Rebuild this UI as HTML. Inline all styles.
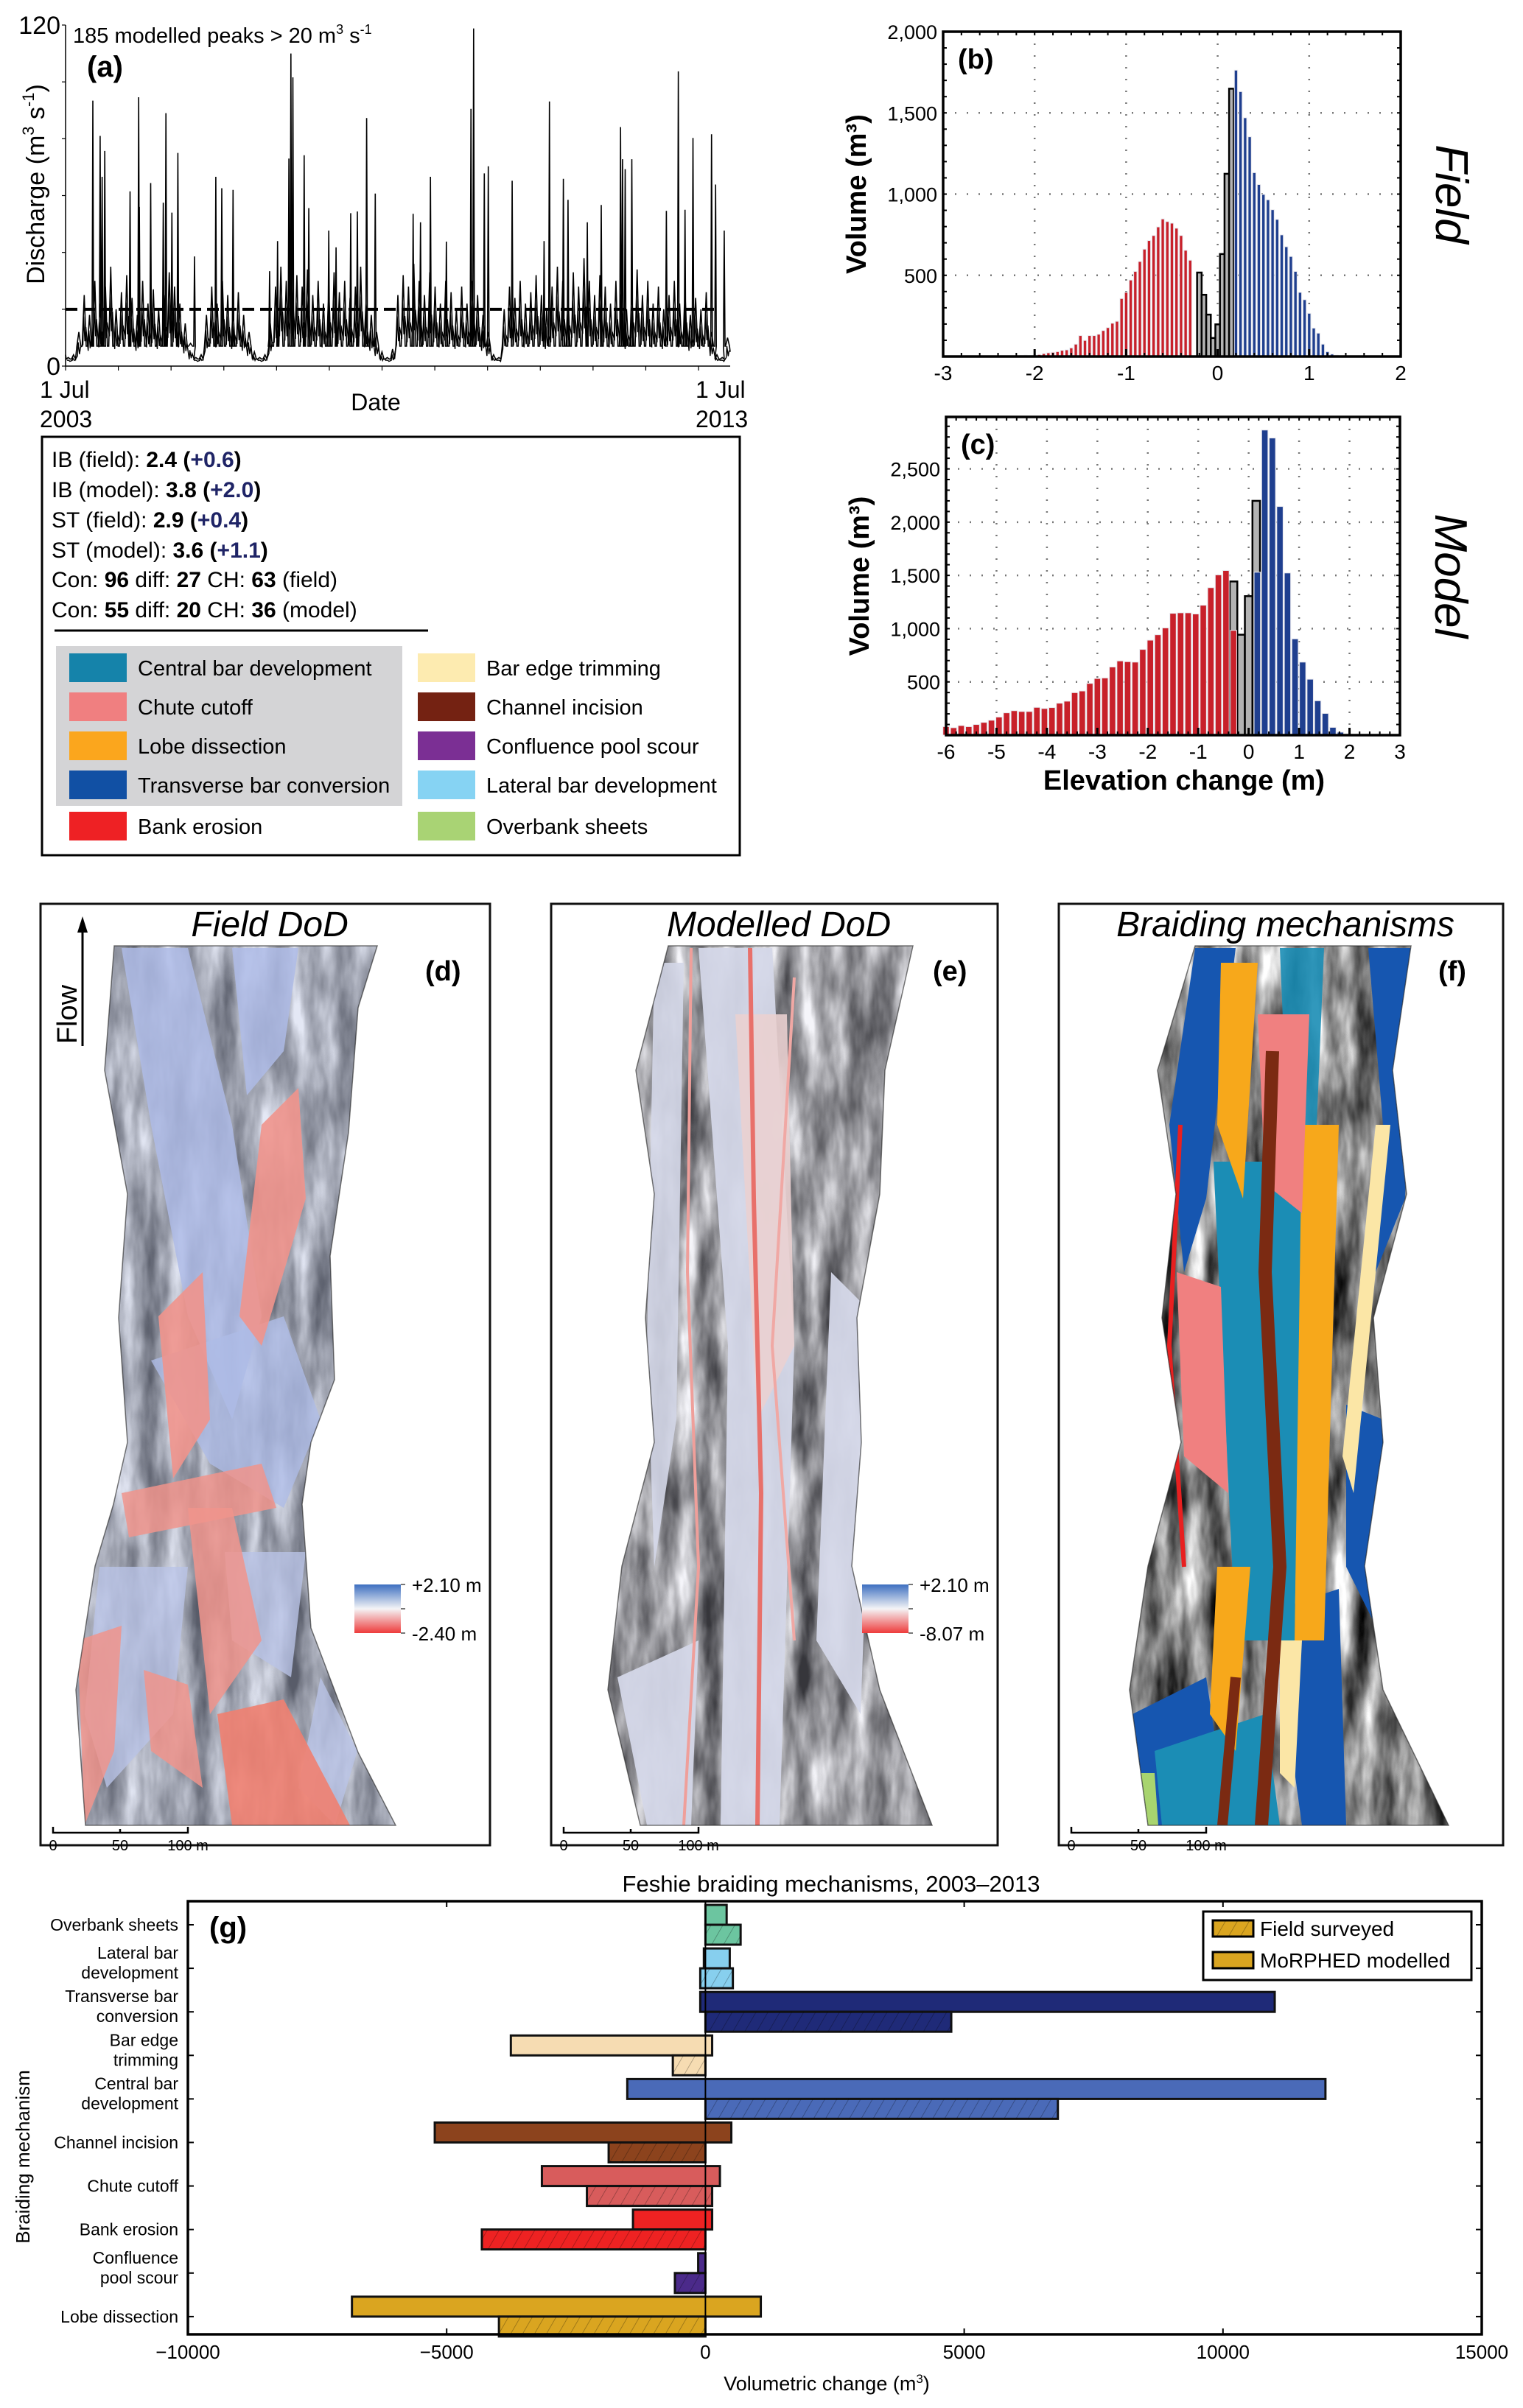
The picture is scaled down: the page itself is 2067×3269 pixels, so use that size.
<!DOCTYPE html>
<html><head><meta charset="utf-8">
<style>
html,body{margin:0;padding:0;background:#fff;}
svg{display:block;font-family:"Liberation Sans",Arial,sans-serif;}
</style></head>
<body>
<svg id="fig" xmlns="http://www.w3.org/2000/svg" width="2067" height="3269" viewBox="0 0 2067 3269">
<defs>
  <filter id="hill" x="0" y="0" width="100%" height="100%" color-interpolation-filters="sRGB">
    <feTurbulence type="fractalNoise" baseFrequency="0.03 0.008" numOctaves="4" seed="7" result="n"/>
    <feColorMatrix type="saturate" values="0" in="n" result="gs"/>
    <feComponentTransfer in="gs"><feFuncR type="linear" slope="2.0" intercept="-0.5"/><feFuncG type="linear" slope="2.0" intercept="-0.5"/><feFuncB type="linear" slope="2.0" intercept="-0.5"/><feFuncA type="linear" slope="0" intercept="1"/></feComponentTransfer>
  </filter>
  <pattern id="hatch" width="14" height="14" patternUnits="userSpaceOnUse" patternTransform="rotate(30)">
    <line x1="0" y1="0" x2="0" y2="14" stroke="rgba(0,0,0,0.35)" stroke-width="1.5"/>
  </pattern>
  <linearGradient id="cbar" x1="0" y1="0" x2="0" y2="1">
    <stop offset="0" stop-color="#3d6fc0"/><stop offset="0.5" stop-color="#f4f4f6"/><stop offset="1" stop-color="#ee3b3b"/>
  </linearGradient>
</defs>
<g id="pa"></g>
<g id="pinfo"></g>
<g id="pb"></g>
<g id="pc"></g>
<g id="maps"></g>
<g id="pg"></g>
</svg>
<script>
// ---------- (a) discharge data ----------
const peakT = [0.41,0.52,0.55,0.59,0.97,1.10,1.11,1.28,1.47,1.51,1.60,1.69,1.94,2.26,2.35,2.52,3.07,3.19,3.36,3.39,3.42,3.59,3.66,3.96,4.07,4.29,4.39,4.53,4.66,5.23,5.34,5.49,5.73,6.10,6.14,6.30,6.36,6.72,7.20,7.28,7.49,7.56,7.85,8.06,8.35,8.38,8.42,8.52,9.04,9.22,9.32,9.44,9.72,9.78,9.91];
const peakV = [93.4,81,66.6,75.7,61.5,94.6,56,64.4,57.5,89,54,75,38.6,66.6,62.6,62,33.4,44,73,110,101.6,74.2,55.6,47.7,41.8,53.8,54.4,87.3,60.7,53.6,50.6,66.6,43.8,90.5,118.8,67.8,70.3,65.2,44,93.1,65.9,58.5,50.6,56.7,84.1,72.8,69.3,72.8,54.6,103.7,55,80.3,81.6,63.9,47.7];
const minorV = [3,4,12,25,18,30,22,28,35,20,26,32,24,18,30,22,27,20,25,33,28,22,15,8,3,4,18,28,22,30,25,20,26,18,12,5,3,4,15,28,35,30,38,32,28,34,25,30,22,28,33,26,30,24,28,35,22,18,12,5,3,6,25,32,28,36,30,25,33,28,22,30,26,20,28,22,30,25,18,12,4,3,20,28,24,30,22,26,32,25,20,28,35,30,26,33,28,38,30,25,32,28,22,30,26,20,28,34,25,30,22,28,20,25,30,22,28,18,24,20,26,12,4,3,10];
const minorStep = 0.08;
const dischargeTicksY = ["0","120"];
const dashLevel = 20;

// ---------- (b) field histogram ----------
const bRedStart = -2.40, bStep = 0.05;
const bRedV = [3,4,3,5,4,6,8,6,8,12,18,23,26,30,38,41,53,76,129,99,129,129,137,160,178,205,217,357,395,471,524,585,661,714,745,798,847,831,821,790,745,654,593];
const bGrayStart = -0.20;
const bGrayV = [517,380,258,114,198,631,1125,1649];
const bBlueStart = 0.20;
const bBlueV = [1763,1631,1470,1353,1132,1059,998,965,904,844,749,676,616,524,395,350,266,175,144,76,30,15,8,4,3];
const bTicksX = ["-3","-2","-1","0","1","2"];
const bTicksY = ["500","1,000","1,500","2,000"];

// ---------- (c) model histogram ----------
const cRedStart = -6.0, cStep = 0.15;
const cRedV = [80,70,90,80,100,120,140,170,210,230,222,222,261,250,259,300,319,399,415,486,532,537,640,697,690,686,805,892,943,1007,1144,1149,1149,1138,1220,1385,1505,1546,984];
const cGrayStart = -0.30;
const cGrayV = [1443,943,1305,2200];
const cBlueStart = 0.17;
const cBlueV = [1530,2865,2790,2147,1523,904,686,525,323,204,73,28];
const cTicksX = ["-6","-5","-4","-3","-2","-1","0","1","2","3"];
const cTicksY = ["500","1,000","1,500","2,000","2,500"];

// ---------- (g) braiding mechanisms ----------
const gCats = [["Overbank sheets"],["Lateral bar","development"],["Transverse bar","conversion"],["Bar edge","trimming"],["Central bar","development"],["Channel incision"],["Chute cutoff"],["Bank erosion"],["Confluence","pool scour"],["Lobe dissection"]];
const gFieldNeg = [0,-30,-100,-3760,-1510,-5230,-3160,-1400,-140,-6830];
const gFieldPos = [410,470,11000,130,11980,500,280,130,0,1070];
const gModelNeg = [0,-100,0,-630,0,-1870,-2290,-4320,-590,-3990];
const gModelPos = [680,530,4750,0,6810,0,130,0,0,0];
const gColors = ["#6cc5a0","#87cfee","#1f2a78","#f6dcb2","#4a6ab8","#8c431d","#d85c5c","#ee2222","#4b2a8a","#daa520"];
const gTicksX = [-10000,-5000,0,5000,10000,15000];

// ---------- helpers ----------
const NS = "http://www.w3.org/2000/svg";
function mk(parent, tag, attrs, text){
  const e = document.createElementNS(NS, tag);
  for (const k in attrs) e.setAttribute(k, attrs[k]);
  if (text !== undefined) e.textContent = text;
  parent.appendChild(e);
  return e;
}

// ===== Panel (a) =====
(function(){
  const g = document.getElementById('pa');
  const X0=89, X1=991, Y0=497, YT=34;
  const xs = t => X0 + t/10*(X1-X0);
  const ys = v => Y0 - v*(Y0-YT)/120;
  const ev = [];
  for (let i=0;i<peakT.length;i++) ev.push([peakT[i], peakV[i], 0.012]);
  for (let i=0;i<minorV.length;i++) ev.push([0.04+minorStep*i, minorV[i], 0.03]);
  ev.sort((a,b)=>a[0]-b[0]);
  let pts = [[xs(0), ys(4)]];
  for (const e of ev){
    const base = e[1] < 7 ? 2.5 : 7;
    pts.push([xs(e[0]-e[2]), ys(base)]);
    pts.push([xs(e[0]), ys(e[1])]);
    pts.push([xs(e[0]+e[2]), ys(base)]);
  }
  pts.push([xs(10), ys(5)]);
  const line = mk(g,'polyline',{points:pts.map(p=>p[0].toFixed(1)+','+p[1].toFixed(1)).join(' '),fill:'none',stroke:'#000','stroke-width':1.6});
  
  
  const dense = [];
  for (let i=0;i<minorV.length;i++){
    const t = 0.04+minorStep*i, v = minorV[i];
    dense.push([xs(t-0.02), ys(Math.max(2,v*0.3))],[xs(t-0.01), ys(v*0.7)],[xs(t+0.01), ys(Math.max(2,v*0.35))],[xs(t+0.025), ys(v*0.55)]);
  }
  const dl = mk(g,'polyline',{points:dense.map(p=>p[0].toFixed(1)+','+p[1].toFixed(1)).join(' '),fill:'none',stroke:'#000','stroke-width':1.4});
  
  
  const dash = mk(g,'line',{x1:X0,x2:X0+(X1-X0)*0.98,y1:ys(dashLevel),y2:ys(dashLevel),stroke:'#000','stroke-width':4,'stroke-dasharray':'16,8'});
  
  
  const ax = mk(g,'path',{d:`M${X0},${YT} V${Y0} H${X1}`,fill:'none',stroke:'#000','stroke-width':1.5});
  
  
  for (let i=0;i<=6;i++) mk(g,'line',{x1:X0,x2:X0-5,y1:ys(i*20),y2:ys(i*20),stroke:'#000','stroke-width':1.2});
  for (let i=0;i<=12;i++){ const x=X0+i*(X1-X0)/12.6; mk(g,'line',{x1:x,x2:x,y1:Y0,y2:Y0+6,stroke:'#000','stroke-width':1.2}); }
  const t1 = mk(g,'text',{x:82,y:ys(120)+12,'font-size':34,'text-anchor':'end'},dischargeTicksY[1]);
   
  const t0 = mk(g,'text',{x:82,y:Y0+12,'font-size':34,'text-anchor':'end'},dischargeTicksY[0]);
   
  const nt = mk(g,'text',{x:99,y:58,'font-size':29});
   
  mk(nt,'tspan',{},'185 modelled peaks > 20 m');
  mk(nt,'tspan',{'font-size':18,dy:-12},'3');
  mk(nt,'tspan',{'font-size':29,dy:12},' s');
  mk(nt,'tspan',{'font-size':18,dy:-12},'-1');
  const la = mk(g,'text',{x:118,y:104,'font-size':40,'font-weight':'bold'},'(a)');
   
  const yt = mk(g,'text',{x:0,y:0,'font-size':34,'text-anchor':'middle',transform:'translate(60,250) rotate(-90)'});
   
  mk(yt,'tspan',{},'Discharge (m');
  mk(yt,'tspan',{'font-size':22,dy:-14},'3'); mk(yt,'tspan',{'font-size':34,dy:14},'  s'); mk(yt,'tspan',{'font-size':22,dy:-14},'-1'); mk(yt,'tspan',{'font-size':34,dy:14},')');
  const xa = mk(g,'text',{x:54,y:540,'font-size':32},'1 Jul');  
  mk(g,'text',{x:54,y:580,'font-size':32},'2003');
  const xb = mk(g,'text',{x:944,y:540,'font-size':32},'1 Jul');  
  mk(g,'text',{x:944,y:580,'font-size':32},'2013');
  const xt = mk(g,'text',{x:510,y:557,'font-size':32,'text-anchor':'middle'},'Date');  
})();

// ===== Info / legend box =====
(function(){
  const g = document.getElementById('pinfo');
  const box = mk(g,'rect',{x:57,y:593,width:947,height:568,fill:'#fff',stroke:'#000','stroke-width':3});
   
  const lines = [
    [["IB (field): ",0],["2.4 ",1],["(",1],["+0.6",2],[")",1]],
    [["IB (model): ",0],["3.8 ",1],["(",1],["+2.0",2],[")",1]],
    [["ST (field): ",0],["2.9 ",1],["(",1],["+0.4",2],[")",1]],
    [["ST (model): ",0],["3.6 ",1],["(",1],["+1.1",2],[")",1]],
    [["Con: ",0],["96",1],[" diff: ",0],["27",1],[" CH: ",0],["63",1],[" (field)",0]],
    [["Con: ",0],["55",1],[" diff: ",0],["20",1],[" CH: ",0],["36",1],[" (model)",0]]
  ];
  const ys=[634,675,716,757,797,838];
  lines.forEach((ln,i)=>{
    const t = mk(g,'text',{x:70,y:ys[i],'font-size':30});
    
    
    ln.forEach(s=>{ mk(t,'tspan',{'font-weight':s[1]?'bold':'normal',fill:s[1]===2?'#1f2466':'#000'},s[0]); });
  });
  mk(g,'line',{x1:74,x2:581,y1:856,y2:856,stroke:'#000','stroke-width':3});
  const gb = mk(g,'rect',{x:76,y:877,width:470,height:217,fill:'#d4d4d6'});
   
  const left=[["Central bar development","#1583aa"],["Chute cutoff","#f07f80"],["Lobe dissection","#fba61d"],["Transverse bar conversion","#1150a4"],["Bank erosion","#ee2124"]];
  const right=[["Bar edge trimming","#fdebb0"],["Channel incision","#742212"],["Confluence pool scour","#7b2f94"],["Lateral bar development","#86d3f3"],["Overbank sheets","#a9d374"]];
  const rows=[887,940,993,1046,1102];
  [[left,94,187],[right,567,660]].forEach(col=>{
    col[0].forEach((it,i)=>{
      const r = mk(g,'rect',{x:col[1],y:rows[i],width:78,height:39,fill:it[1]});
      
      
      const t = mk(g,'text',{x:col[2],y:rows[i]+30,'font-size':29},it[0]);
      
      
    });
  });
})();

// ===== Histogram helper =====
function histo(gid, cfg){
  const g = document.getElementById(gid);
  const L=cfg.L,R=cfg.R,T=cfg.T,B=cfg.B,xmin=cfg.xmin,xmax=cfg.xmax,ymax=cfg.ymax,step=cfg.step,bw=cfg.bw;
  const xs = e => L + (e-xmin)/(xmax-xmin)*(R-L);
  const ys = v => B - v/ymax*(B-T);
  for (let e=Math.ceil(xmin); e<=xmax; e++){ mk(g,'line',{x1:xs(e),x2:xs(e),y1:T,y2:B,stroke:'#777','stroke-width':2.5,'stroke-dasharray':'2,14'}); }
  cfg.gridY.forEach(v=>mk(g,'line',{x1:L,x2:R,y1:ys(v),y2:ys(v),stroke:'#777','stroke-width':2.5,'stroke-dasharray':'2,14'}));
  cfg.gray.forEach((v,i)=>{
    const c = cfg.grayStart + i*step;
    const r = mk(g,'rect',{x:xs(c-step/2),y:ys(v),width:xs(c+step/2)-xs(c-step/2),height:B-ys(v),fill:'#b3b3b3',stroke:'#000','stroke-width':2.5});
    
    
  });
  const series=[[cfg.red,cfg.redStart,'#c8202a','bar-erosion'],[cfg.blue,cfg.blueStart,'#1f3f8f','bar-deposition']];
  series.forEach(s=>{
    s[0].forEach((v,i)=>{
      const c = s[1]+i*step;
      const w = xs(c+bw/2)-xs(c-bw/2);
      const r = mk(g,'rect',{x:xs(c-bw/2),y:ys(v),width:w,height:B-ys(v),fill:s[2],stroke:'#e8e8ee','stroke-width':1});
      
      
    });
  });
  const fr = mk(g,'rect',{x:L,y:T,width:R-L,height:B-T,fill:'none',stroke:'#000','stroke-width':3.5});
   
  for (let k=Math.ceil(xmin*5); k<=Math.floor(xmax*5); k++){ const e=k/5; mk(g,'line',{x1:xs(e),x2:xs(e),y1:B,y2:B-5,stroke:'#000','stroke-width':2}); mk(g,'line',{x1:xs(e),x2:xs(e),y1:T,y2:T+5,stroke:'#000','stroke-width':2}); }
  for (let e=Math.ceil(xmin); e<=xmax; e++){ mk(g,'line',{x1:xs(e),x2:xs(e),y1:B,y2:B-10,stroke:'#000','stroke-width':3}); }
  for (let v=0; v<=ymax; v+=100){ mk(g,'line',{x1:L,x2:L+5,y1:ys(v),y2:ys(v),stroke:'#000','stroke-width':2}); mk(g,'line',{x1:R,x2:R-5,y1:ys(v),y2:ys(v),stroke:'#000','stroke-width':2}); }
  cfg.ticksX.forEach(s=>{
    const t = mk(g,'text',{x:xs(parseFloat(s)),y:B+32,'font-size':28,'text-anchor':'middle'},s);
    
    
  });
  cfg.ticksY.forEach(s=>{
    const t = mk(g,'text',{x:L-8,y:ys(parseFloat(s.replace(',','')))+10,'font-size':27,'text-anchor':'end'},s);
    
    
  });
  const yt = mk(g,'text',{x:0,y:0,'font-size':38,'font-weight':'bold','text-anchor':'middle',transform:`translate(${L-105},${(T+B)/2}) rotate(-90)`},'Volume  (m³)');
   
  const pl = mk(g,'text',{x:L+20,y:T+50,'font-size':38,'font-weight':'bold'},cfg.label);
   
  const side = mk(g,'text',{x:0,y:0,'font-size':62,'font-style':'italic','text-anchor':'middle',transform:`translate(${R+48},${(T+B)/2}) rotate(90)`},cfg.side);
   
}
histo('pb',{L:1280,R:1901,T:43,B:484,xmin:-3,xmax:2,ymax:2000,step:bStep,bw:0.035,gridY:[500,1000,1500],
  red:bRedV,redStart:bRedStart,gray:bGrayV,grayStart:bGrayStart,blue:bBlueV,blueStart:bBlueStart,
  ticksX:bTicksX,ticksY:bTicksY,label:'(b)',side:'Field'});
histo('pc',{L:1284,R:1900,T:566,B:998,xmin:-6,xmax:3,ymax:2988,step:cStep,bw:0.125,gridY:[500,1000,1500,2000,2500],
  red:cRedV,redStart:cRedStart,gray:cGrayV,grayStart:cGrayStart,blue:cBlueV,blueStart:cBlueStart,
  ticksX:cTicksX,ticksY:cTicksY,label:'(c)',side:'Model'});
(function(){
  const g=document.getElementById('pc');
  const t=mk(g,'text',{x:1607,y:1072,'font-size':38,'font-weight':'bold','text-anchor':'middle'},'Elevation change (m)');
   
})();

// ===== Maps =====
(function(){
  const g = document.getElementById('maps');
  const defs = document.querySelector('defs');
  const panels = [
    {x:55,w:610,title:'Field DoD',lab:'(d)',
     left:[[100,57],[87,226],[118,394],[106,562],[118,731],[99,815],[74,899],[48,1067],[61,1251]],
     right:[[457,57],[431,141],[418,310],[393,478],[399,646],[367,731],[355,815],[367,983],[431,1152],[482,1251]],
     base:'#c4cbe8', baseOp:0.45,
     shapes:[
      ['#aebbe6',0.85,[[110,60],[200,60],[260,300],[300,560],[260,700],[200,560],[150,300]]],
      ['#aebbe6',0.85,[[260,60],[350,60],[330,200],[280,260]]],
      ['#aebbe6',0.8,[[150,620],[330,560],[380,700],[330,820],[230,760]]],
      ['#b9c3e6',0.8,[[80,900],[200,900],[180,1100],[90,1200],[60,1100]]],
      ['#b9c3e6',0.8,[[250,880],[360,880],[340,1050],[260,1000]]],
      ['#b9c3e6',0.8,[[380,1050],[430,1150],[400,1251],[350,1200]]],
      ['#f0948c',0.9,[[300,300],[350,250],[360,400],[300,600],[270,560]]],
      ['#f0948c',0.9,[[160,560],[220,500],[230,700],[180,780]]],
      ['#f0948c',0.85,[[110,800],[300,760],[320,820],[120,860]]],
      ['#f0948c',0.85,[[200,820],[260,820],[300,1000],[230,1100]]],
      ['#f0948c',0.85,[[50,1000],[110,980],[100,1150],[60,1250]]],
      ['#f08070',0.9,[[240,1100],[330,1080],[420,1251],[260,1251]]],
      ['#f0948c',0.85,[[140,1040],[200,1060],[220,1200],[150,1150]]]
     ],lines:[]},
    {x:748,w:606,title:'Modelled DoD',lab:'(e)',
     left:[[159,57],[115,226],[140,394],[128,562],[140,731],[96,899],[77,1067],[121,1251]],
     right:[[491,57],[453,226],[446,394],[415,562],[421,731],[408,899],[446,1067],[517,1251]],
     base:'#d6d9ea', baseOp:0.25,
     shapes:[
      ['#d4d7e8',0.95,[[200,60],[300,60],[330,600],[310,1251],[230,1251],[240,600]]],
      ['#d4d7e8',0.95,[[380,500],[440,560],[420,1100],[360,1000]]],
      ['#d4d7e8',0.95,[[90,1050],[200,1000],[190,1251],[130,1251]]],
      ['#d4d7e8',0.9,[[140,80],[180,80],[170,700],[140,900],[130,600]]],
      ['#ead0d0',0.9,[[250,150],[320,150],[330,600],[280,700]]]
     ],
     lines:[['#e8706a',6,[[270,60],[275,400],[285,800],[280,1251]]],['#ef9f9a',4,[[190,60],[185,500],[200,900],[180,1251]]],['#f0a8a4',4,[[330,100],[300,600],[330,1000]]]]},
    {x:1437,w:603,title:'Braiding mechanisms',lab:'(f)',
     left:[[185,57],[134,226],[159,394],[140,562],[166,731],[121,899],[96,1067],[121,1251]],
     right:[[478,57],[453,226],[472,394],[427,562],[440,731],[415,899],[440,1067],[529,1251]],
     base:'#1b8db5', baseOp:0.0,
     shapes:[
      ['#1656b0',1,[[185,60],[240,60],[200,400],[170,500],[150,300]]],
      ['#1656b0',1,[[420,60],[480,60],[470,400],[430,500],[440,300]]],
      ['#1656b0',1,[[390,680],[440,700],[440,1000],[390,900]]],
      ['#1656b0',1,[[100,1100],[200,1050],[230,1251],[120,1251]]],
      ['#1656b0',1,[[290,960],[380,930],[390,1251],[330,1251]]],
      ['#1b8db5',1,[[210,350],[330,350],[320,1000],[240,1000]]],
      ['#1b8db5',1,[[130,1150],[280,1100],[300,1251],[140,1251]]],
      ['#1b8db5',0.9,[[300,60],[360,60],[350,300],[310,300]]],
      ['#f7a81b',1,[[220,80],[270,80],[250,400],[215,300]]],
      ['#f7a81b',1,[[330,300],[380,300],[360,1000],[320,1000]]],
      ['#f7a81b',1,[[215,900],[260,900],[240,1150],[205,1100]]],
      ['#f08080',1,[[270,150],[340,150],[330,420],[280,380]]],
      ['#f08080',1,[[160,500],[220,520],[230,800],[170,750]]],
      ['#fbe6a6',1,[[430,300],[450,300],[400,800],[385,750]]],
      ['#fbe6a6',1,[[300,1000],[330,1000],[320,1200],[300,1180]]],
      ['#a8d46f',1,[[100,1180],[130,1180],[135,1251],[110,1251]]]
     ],
     lines:[['#7b2a12',18,[[290,200],[280,500],[300,900],[275,1251]]],['#7b2a12',14,[[240,1050],[222,1251]]],['#e82020',6,[[165,300],[150,600],[170,900]]]]}
  ];
  panels.forEach((p,pi)=>{
    const pg = mk(g,'g',{transform:`translate(${p.x},1227)`});
    
    
    const band = p.left.concat(p.right.slice().reverse());
    const d = 'M'+band.map(q=>q.join(',')).join(' L')+' Z';
    const cid = 'clip'+pi;
    const cp = mk(defs,'clipPath',{id:cid});
    mk(cp,'path',{d:d});
    const inner = mk(pg,'g',{'clip-path':`url(#${cid})`});
    mk(inner,'rect',{x:0,y:50,width:p.w,height:1210,fill:'#808080',filter:'url(#hill)'});
    if (p.baseOp>0) mk(inner,'rect',{x:0,y:50,width:p.w,height:1210,fill:p.base,opacity:p.baseOp});
    p.shapes.forEach(s=>{
      const poly = mk(inner,'polygon',{points:s[2].map(q=>q.join(',')).join(' '),fill:s[0],opacity:s[1]});
      
      
    });
    p.lines.forEach(s=>{
      mk(inner,'polyline',{points:s[2].map(q=>q.join(',')).join(' '),fill:'none',stroke:s[0],'stroke-width':s[1]});
    });
    mk(pg,'path',{d:d,fill:'none',stroke:'#222','stroke-width':1.5,opacity:0.6});
    const fr = mk(pg,'rect',{x:0,y:0,width:p.w,height:1278,fill:'none',stroke:'#111','stroke-width':3});
     
    const tt = mk(pg,'text',{x:p.w*0.51,y:44,'font-size':48,'font-style':'italic','text-anchor':'middle'},p.title);
     
    const lb = mk(pg,'text',{x:p.w-88,y:104,'font-size':38,'font-weight':'bold'},p.lab);
     
    mk(pg,'path',{d:'M17,1253 V1261 H200 V1253 M108,1256 V1261',fill:'none',stroke:'#000','stroke-width':2.5});
    const sb=[['0',17],['50',108],['100 m',200]];
    sb.forEach(s=>{ const t=mk(pg,'text',{x:s[1],y:1285,'font-size':20,'text-anchor':'middle'},s[0]);   });
  });
  mk(g,'line',{x1:112,x2:112,y1:1420,y2:1256,stroke:'#000','stroke-width':3});
  mk(g,'polygon',{points:'112,1244 105,1266 119,1266',fill:'#000'});
  const fl = mk(g,'text',{x:0,y:0,'font-size':38,'text-anchor':'middle',transform:'translate(104,1377) rotate(-90)'},'Flow');
   
  [[481,'+2.10 m','-2.40 m'],[1170,'+2.10 m','-8.07 m']].forEach(c=>{
    const r = mk(g,'rect',{x:c[0],y:2151,width:63,height:66,fill:'url(#cbar)'});
     
    mk(g,'path',{d:`M${c[0]+63},2151 h6 M${c[0]+63},2184 h6 M${c[0]+63},2217 h6`,stroke:'#777','stroke-width':2});
    mk(g,'text',{x:c[0]+78,y:2161,'font-size':26},c[1]);
    mk(g,'text',{x:c[0]+78,y:2227,'font-size':26},c[2]);
  });
})();

// ===== Panel (g) =====
(function(){
  const g = document.getElementById('pg');
  const L=255, R=2011, T=2581, B=3169;
  const xmin=-10000, xmax=15000;
  const xs = v => L + (v-xmin)/(xmax-xmin)*(R-L);
  const rowY = i => 2613 + i*59.1;
  const bh = 27;
  gCats.forEach((cat,i)=>{
    const yc = rowY(i);
    const f = mk(g,'rect',{x:xs(gFieldNeg[i]),y:yc-bh,width:xs(gFieldPos[i])-xs(gFieldNeg[i]),height:bh,fill:gColors[i],stroke:'#111','stroke-width':3});
    
    
    const m = mk(g,'rect',{x:xs(gModelNeg[i]),y:yc,width:xs(gModelPos[i])-xs(gModelNeg[i]),height:bh,fill:gColors[i],stroke:'#111','stroke-width':3});
    
    
    mk(g,'rect',{x:xs(gModelNeg[i]),y:yc,width:xs(gModelPos[i])-xs(gModelNeg[i]),height:bh,fill:'url(#hatch)'});
    mk(g,'line',{x1:L,x2:L+8,y1:yc,y2:yc,stroke:'#000','stroke-width':2});
    mk(g,'line',{x1:R,x2:R-8,y1:yc,y2:yc,stroke:'#000','stroke-width':2});
    const lbl = mk(g,'text',{x:242,y:yc,'font-size':23,'text-anchor':'end'});
    
    
    if (cat.length===1){ mk(lbl,'tspan',{x:242,y:yc+8},cat[0]); }
    else { mk(lbl,'tspan',{x:242,y:yc-13},cat[0]); mk(lbl,'tspan',{x:242,y:yc+14},cat[1]); }
  });
  mk(g,'line',{x1:xs(0),x2:xs(0),y1:T,y2:B,stroke:'#000','stroke-width':2});
  const fr = mk(g,'rect',{x:L,y:T,width:R-L,height:B-T,fill:'none',stroke:'#000','stroke-width':3.5});
   
  gTicksX.forEach(v=>{
    mk(g,'line',{x1:xs(v),x2:xs(v),y1:B,y2:B-8,stroke:'#000','stroke-width':2});
    mk(g,'line',{x1:xs(v),x2:xs(v),y1:T,y2:T+8,stroke:'#000','stroke-width':2});
    const t = mk(g,'text',{x:xs(v),y:3202,'font-size':26,'text-anchor':'middle'},v<0?'\u2212'+Math.abs(v):String(v));
    
    
  });
  const xt = mk(g,'text',{x:1122,y:3245,'font-size':27,'text-anchor':'middle'});
   
  mk(xt,'tspan',{},'Volumetric change (m');
  mk(xt,'tspan',{'font-size':17,dy:-10},'3'); mk(xt,'tspan',{'font-size':27,dy:10},')');
  const yt = mk(g,'text',{x:0,y:0,'font-size':26,'text-anchor':'middle',transform:'translate(40,2928) rotate(-90)'},'Braiding mechanism');
   
  const tt = mk(g,'text',{x:1128,y:2568,'font-size':31,'text-anchor':'middle'},'Feshie braiding mechanisms, 2003\u20132013');
   
  const pl = mk(g,'text',{x:284,y:2630,'font-size':40,'font-weight':'bold'},'(g)');
   
  const lg = mk(g,'rect',{x:1633,y:2595,width:364,height:93,fill:'#fff',stroke:'#000','stroke-width':3});
   
  [['Field surveyed',2607,true],['MoRPHED modelled',2650,false]].forEach(e=>{
    const s = mk(g,'rect',{x:1646,y:e[1],width:55,height:22,fill:'#daa520',stroke:'#000','stroke-width':3});
     
    if (e[2]) mk(g,'rect',{x:1646,y:e[1],width:55,height:22,fill:'url(#hatch)'});
    const t = mk(g,'text',{x:1710,y:e[1]+21,'font-size':28},e[0]);
     
  });
})();
</script>
</body></html>
